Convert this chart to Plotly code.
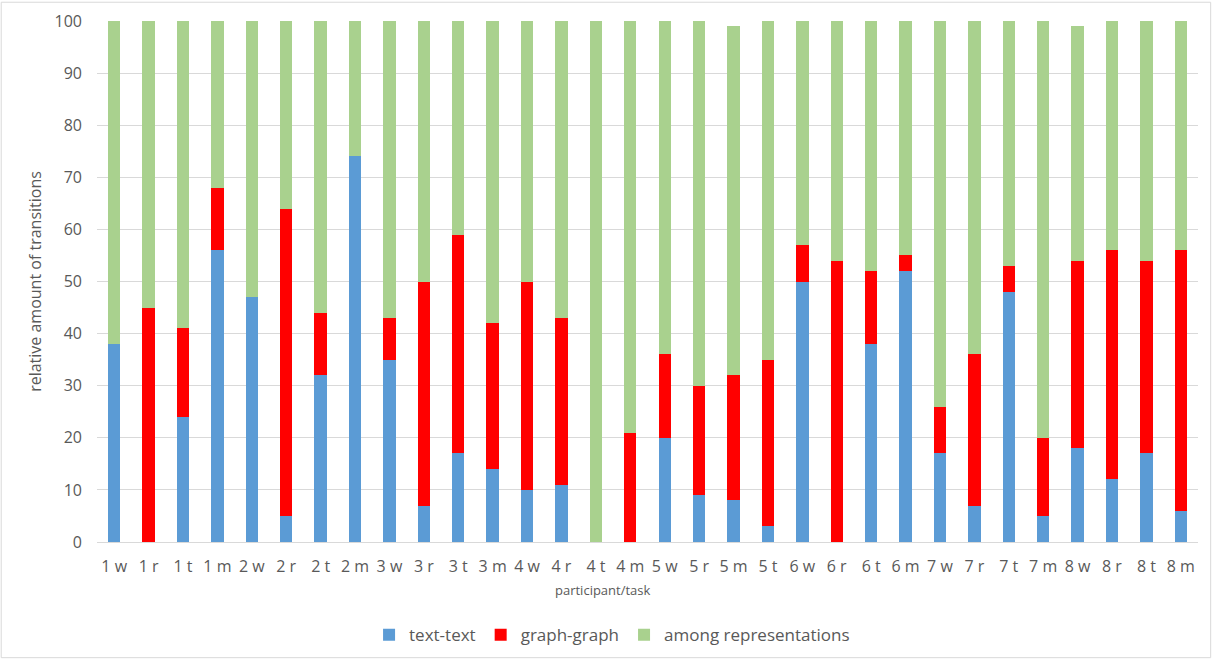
import plotly.graph_objects as go

# participant / task labels
categories = [
    "1 w", "1 r", "1 t", "1 m", "2 w", "2 r", "2 t", "2 m",
    "3 w", "3 r", "3 t", "3 m", "4 w", "4 r", "4 t", "4 m",
    "5 w", "5 r", "5 m", "5 t", "6 w", "6 r", "6 t", "6 m",
    "7 w", "7 r", "7 t", "7 m", "8 w", "8 r", "8 t", "8 m",
]

# relative amount of transitions (%)
text_text = [38, 0, 24, 56, 47, 5, 32, 74,
             35, 7, 17, 14, 10, 11, 0, 0,
             20, 9, 8, 3, 50, 0, 38, 52,
             17, 7, 48, 5, 18, 12, 17, 6]
graph_graph = [0, 45, 17, 12, 0, 59, 12, 0,
               8, 43, 42, 28, 40, 32, 0, 21,
               16, 21, 24, 32, 7, 54, 14, 3,
               9, 29, 5, 15, 36, 44, 37, 50]
among = [62, 55, 59, 32, 53, 36, 56, 26,
         57, 50, 41, 58, 50, 57, 100, 79,
         64, 70, 67, 65, 43, 46, 48, 45,
         74, 64, 47, 80, 45, 44, 46, 44]

y_ticks = list(range(0, 101, 10))

font_family = "Open Sans, Liberation Sans, sans-serif"
grey = "#595959"

fig = go.Figure()
for name, vals, color in [
    ("text-text", text_text, "#5B9BD5"),
    ("graph-graph", graph_graph, "#FF0000"),
    ("among representations", among, "#A9D18E"),
]:
    fig.add_trace(go.Bar(
        x=categories, y=vals, name=name,
        marker=dict(color=color, line=dict(width=0)),
    ))

fig.update_layout(
    barmode="stack",
    bargap=0.64,
    width=1212, height=659,
    margin=dict(l=97, r=14, t=21, b=117, autoexpand=False),
    paper_bgcolor="white",
    plot_bgcolor="white",
    font=dict(family=font_family, color=grey, size=15),
    showlegend=True,
    legend=dict(
        orientation="h",
        xref="container", yref="container",
        x=0.505, xanchor="center",
        y=0.036, yanchor="middle",
        font=dict(size=17, color=grey),
        itemwidth=30,
        traceorder="normal",
    ),
    xaxis=dict(
        type="category",
        automargin=False,
        showgrid=False,
        showline=True, linecolor="#D9D9D9", linewidth=1,
        ticks="", tickfont=dict(size=16, color=grey),
        ticklabelstandoff=10,
    ),
    yaxis=dict(
        range=[0, 100],
        automargin=False,
        tickvals=y_ticks,
        showgrid=True, gridcolor="#D9D9D9", gridwidth=1,
        zeroline=False,
        ticks="", tickfont=dict(size=16, color=grey),
        ticklabelstandoff=14,
        title=dict(text="relative amount of transitions", font=dict(size=16, color=grey), standoff=8),
    ),
    annotations=[dict(
        text="participant/task", xref="paper", yref="paper",
        x=0.46, y=-0.092, xanchor="center", yanchor="middle",
        showarrow=False, font=dict(size=13, color=grey),
    )],
    shapes=[dict(
        type="rect", xref="paper", yref="paper",
        x0=-0.087, x1=1.0115, y0=-0.222, y1=1.036,
        line=dict(color="#D9D9D9", width=1), layer="below",
    )],
)

fig.write_html("out.html")
